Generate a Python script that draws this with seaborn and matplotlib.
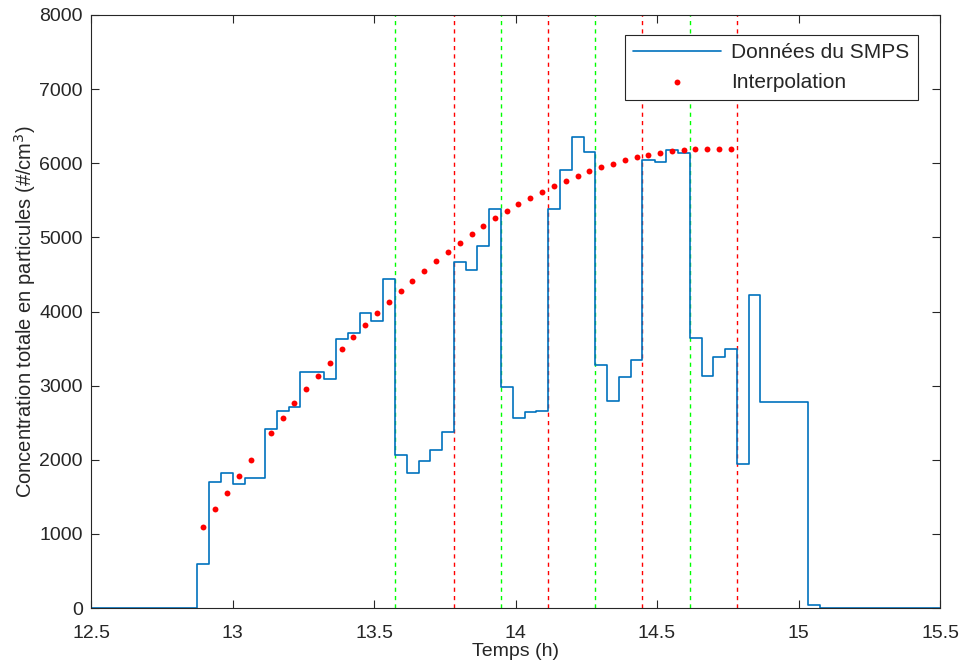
import numpy as np
import pandas as pd
import seaborn as sns
import matplotlib.pyplot as plt

# SMPS step data (time of each step edge [h], concentration [#/cm3])
t_smps = [12.5, 12.876, 12.917, 12.958, 13.001, 13.044, 13.114, 13.156, 13.199,
          13.240, 13.323, 13.366, 13.407, 13.450, 13.491, 13.532, 13.574, 13.616,
          13.658, 13.699, 13.740, 13.783, 13.824, 13.865, 13.906, 13.950, 13.990,
          14.034, 14.074, 14.115, 14.156, 14.200, 14.241, 14.282, 14.324, 14.366,
          14.407, 14.448, 14.493, 14.533, 14.574, 14.616, 14.658, 14.699, 14.740,
          14.783, 14.824, 14.865, 15.034, 15.076, 15.5]
c_smps = [0, 600, 1705, 1817, 1670, 1750, 2415, 2653, 2711,
          3186, 3093, 3629, 3710, 3984, 3876, 4434, 2068, 1826,
          1988, 2132, 2374, 4672, 4556, 4884, 5383, 2977, 2565,
          2640, 2658, 5383, 5913, 6354, 6148, 3274, 2797, 3121,
          3350, 6044, 6017, 6179, 6143, 3642, 3126, 3386, 3494,
          1947, 4218, 2779, 40, 0, 0]

# interpolated points
t_interp = [12.897, 12.939, 12.981, 13.022, 13.064, 13.136, 13.177, 13.218, 13.260,
            13.303, 13.345, 13.386, 13.427, 13.469, 13.512, 13.553, 13.594, 13.635,
            13.678, 13.719, 13.762, 13.803, 13.845, 13.886, 13.928, 13.970, 14.010,
            14.052, 14.095, 14.136, 14.177, 14.220, 14.261, 14.302, 14.345, 14.386,
            14.428, 14.469, 14.511, 14.553, 14.594, 14.635, 14.678, 14.719, 14.761]
c_interp = [1097, 1331, 1556, 1781, 1997, 2357, 2559, 2761, 2950,
            3130, 3310, 3490, 3652, 3818, 3975, 4128, 4276, 4416,
            4551, 4681, 4807, 4929, 5041, 5153, 5257, 5356, 5446,
            5536, 5617, 5693, 5765, 5832, 5891, 5945, 5994, 6040,
            6080, 6111, 6138, 6161, 6174, 6188, 6196, 6196, 6192]

# vertical markers
t_green = [13.574, 13.950, 14.282, 14.616]
t_red = [13.783, 14.115, 14.448, 14.783]

sns.set_theme(style="ticks")
plt.rcParams['font.family'] = ['Liberation Sans', 'DejaVu Sans']
plt.rcParams['xtick.direction'] = 'in'
plt.rcParams['ytick.direction'] = 'in'

df_smps = pd.DataFrame({'t': t_smps, 'c': c_smps})
df_int = pd.DataFrame({'t': t_interp, 'c': c_interp})

fig = plt.figure(figsize=(9.61, 6.66), dpi=100)
ax = fig.add_axes([0.0947, 0.087, 0.8835, 0.8905])

for t in t_green:
    ax.axvline(t, color=(0, 1, 0), lw=1.0, ls=(0, (3, 3)), zorder=1)
for t in t_red:
    ax.axvline(t, color=(1, 0, 0), lw=1.0, ls=(0, (3, 3)), zorder=1)

sns.lineplot(data=df_smps, x='t', y='c', ax=ax, color='#0072BD', lw=1.2,
             drawstyle='steps-post', estimator=None, sort=False,
             label='Données du SMPS', zorder=2)
sns.scatterplot(data=df_int, x='t', y='c', ax=ax, color='red', s=18,
                linewidth=0, label='Interpolation', zorder=3)

ax.set_xlim(12.5, 15.5)
ax.set_ylim(0, 8000)
ax.set_xticks(np.arange(12.5, 15.51, 0.5))
ax.set_xticklabels(['12.5', '13', '13.5', '14', '14.5', '15', '15.5'])
ax.set_yticks(np.arange(0, 8001, 1000))
ax.tick_params(which='both', top=True, right=True, labelsize=14,
               colors='#262626', length=5.5, width=0.8)
ax.tick_params(axis='x', pad=12)
ax.tick_params(axis='y', pad=6)
for s in ax.spines.values():
    s.set_color('#262626')
    s.set_linewidth(0.8)

ax.set_xlabel('Temps (h)', fontsize=14, color='#262626', labelpad=1)
ax.set_ylabel('Concentration totale en particules (#/cm$^3$)', fontsize=14.5,
              color='#262626', labelpad=1)

leg = ax.legend(loc='upper right', bbox_to_anchor=(0.974, 0.966), fontsize=15,
                frameon=True, fancybox=False, borderaxespad=0, handlelength=4.2,
                handletextpad=0.5, borderpad=0.4, labelspacing=0.5,
                markerscale=1.0)
leg.get_frame().set_edgecolor('#262626')
leg.get_frame().set_linewidth(0.8)
leg.get_frame().set_alpha(1)

fig.savefig('out.png', dpi=100)
